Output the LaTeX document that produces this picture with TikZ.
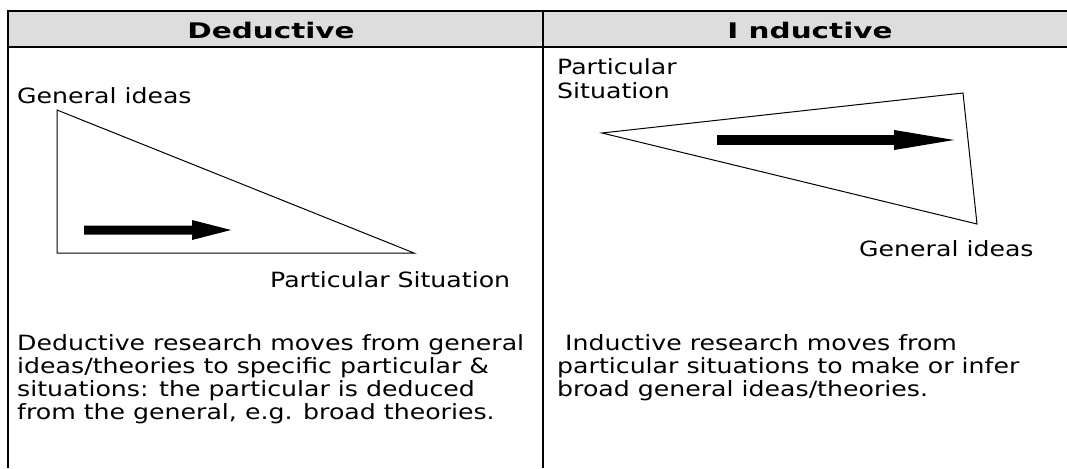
\documentclass[tikz,border=0pt]{standalone}
\usepackage{fontspec}
\setmainfont{DejaVu Sans}[FakeStretch=1.2]
\newfontfamily\headfont{DejaVu Sans}[FakeStretch=1.37]
\begin{document}
\begin{tikzpicture}[x=1pt,y=-1pt,
  rule/.style={line width=2.2pt,black},
  tri/.style={line width=1pt,black,line join=miter},
  bigarrow/.style={fill=black,draw=none},
  head/.style={font=\headfont\fontsize{21.5}{25}\selectfont\bfseries,anchor=base,inner sep=0pt},
  lbl/.style={font=\fontsize{21}{24}\selectfont,inner sep=0pt},
  para/.style={font=\fontsize{21}{23.2}\selectfont,inner sep=0pt,align=left,anchor=north west}]
\useasboundingbox (0,0) rectangle (1067,468);
\fill[gray!27] (8,11) rectangle (1067,47);
\draw[rule] (7,11) -- (1067,11);
\draw[rule] (7,47) -- (1067,47);
\draw[rule] (8,10) -- (8,468);
\draw[rule] (543,10) -- (543,468);
\node[head] (hd) at (271,39) {Deductive};
\node[head] (hi) at (810,39) {I nductive};
% left
\node[lbl,anchor=base west] (gl) at (17,103) {General ideas};
\draw[tri] (57,110) -- (57,253) -- (414,253) -- cycle;
\fill[bigarrow] (84,225.5) -- (192,225.5) -- (192,220) -- (231,230) -- (192,240) -- (192,234.5) -- (84,234.5) -- cycle;
\node[lbl,anchor=base west] (pl) at (270,287) {Particular Situation};
\node[para] (tl) at (17,334) {Deductive research moves from general\\ideas/theories to specific particular \&\\situations: the particular is deduced\\from the general, e.g. broad theories.};
% right
\node[lbl,anchor=north west,align=left] (pr) at (557,58) {Particular\\Situation};
\draw[tri] (602,133) -- (963,93) -- (977,224) -- cycle;
\fill[bigarrow] (717,135.2) -- (894,135.2) -- (894,130) -- (954,140) -- (894,150) -- (894,144.8) -- (717,144.8) -- cycle;
\node[lbl,anchor=base west] (gr) at (859,256) {General ideas};
\node[para] (tr) at (557,334) {\ Inductive research moves from\\particular situations to make or infer\\broad general ideas/theories.};
\end{tikzpicture}
\end{document}
